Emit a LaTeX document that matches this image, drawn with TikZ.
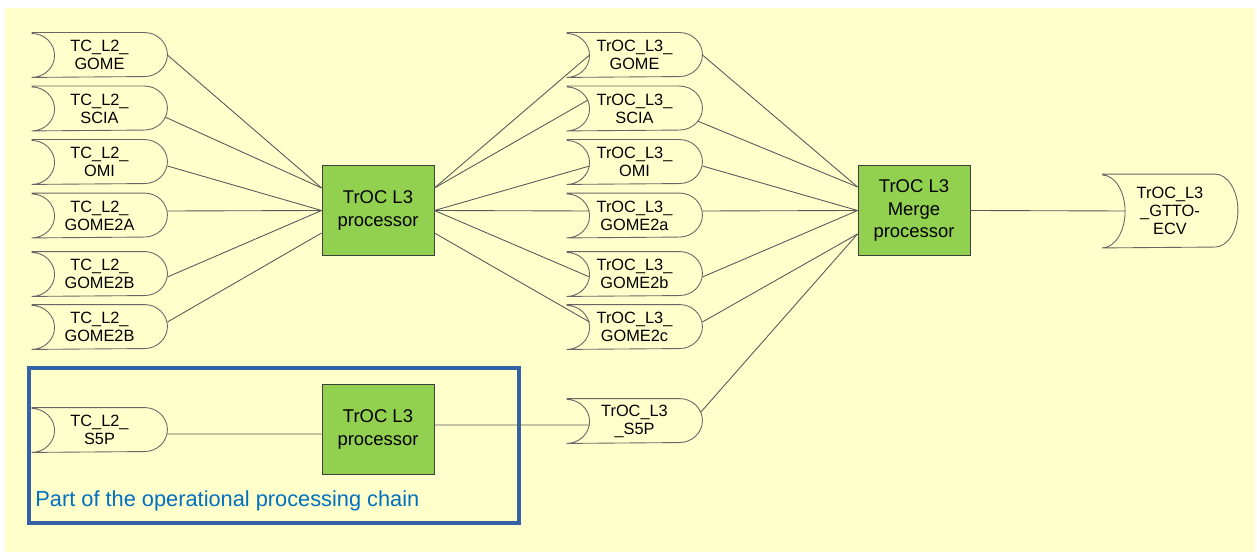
\documentclass[tikz,border=0pt]{standalone}
\usepackage{fontspec}
\setmainfont{Liberation Sans}
\usepackage{tikz}

\definecolor{bgyellow}{HTML}{FFFFCC}
\definecolor{procgreen}{HTML}{92D050}
\definecolor{frameblue}{HTML}{3562A6}
\definecolor{chainblue}{HTML}{0070C0}

\begin{document}
\begin{tikzpicture}[x=0.02cm, y=0.02cm, line width=0.5pt]
	\tikzset{store/.style={minimum width=2.7cm, minimum height=#1, inner sep=0pt, align=center, font=\fontsize{9.3}{10.2}\selectfont,
		append after command={\pgfextra{\let\sn\tikzlastnode
			\draw[draw=black!60, line width=0.5pt] (\sn.north west) -- ([xshift=-4.6mm]\sn.north east)
				arc[start angle=90, end angle=-90, x radius=4.6mm, y radius=#1/2] -- (\sn.south west)
				arc[start angle=-90, end angle=90, x radius=4.6mm, y radius=#1/2];}}},
		store/.default=8.8mm}
	\tikzstyle{proc}=[draw=black!75, fill=procgreen, minimum width=2.24cm, minimum height=1.8cm, inner sep=0pt, align=center, font=\fontsize{10.5}{13}\selectfont]
	\tikzstyle{link}=[draw=black!65, line width=0.5pt]

	\useasboundingbox (0,0) rectangle (1257,-553);
	\fill[bgyellow] (5,-8) rectangle (1255,-552);

	%MARCO
	\draw[frameblue, line width=1.8pt] (29,-368) rectangle (519,-523);
	\node[anchor=west, inner sep=0pt, text=chainblue, font=\fontsize{12.4}{14}\selectfont] (chain) at (35,-501) {Part of the operational processing chain};

	%ENTRADAS L2
	\node[store] (in1) at (99.5,-55)    {TC\_L2\_\\GOME};
	\node[store] (in2) at (99.5,-108.5) {TC\_L2\_\\SCIA};
	\node[store] (in3) at (99.5,-162)   {TC\_L2\_\\OMI};
	\node[store] (in4) at (99.5,-215.5) {TC\_L2\_\\GOME2A};
	\node[store] (in5) at (99.5,-274)   {TC\_L2\_\\GOME2B};
	\node[store] (in6) at (99.5,-327)   {TC\_L2\_\\GOME2B};
	\node[store] (in7) at (99.5,-430)   {TC\_L2\_\\S5P};

	%PROCESADORES
	\node[proc] (p1) at (378,-210.5) {TrOC L3\\processor};
	\node[proc] (p2) at (378,-429.5) {TrOC L3\\processor};
	\node[proc] (merge) at (914,-210.5) {TrOC L3\\Merge\\processor};

	%SALIDAS L3
	\node[store] (m1) at (634.5,-55)    {TrOC\_L3\_\\GOME};
	\node[store] (m2) at (634.5,-108.5) {TrOC\_L3\_\\SCIA};
	\node[store] (m3) at (634.5,-162)   {TrOC\_L3\_\\OMI};
	\node[store] (m4) at (634.5,-215.5) {TrOC\_L3\_\\GOME2a};
	\node[store] (m5) at (634.5,-274)   {TrOC\_L3\_\\GOME2b};
	\node[store] (m6) at (634.5,-327)   {TrOC\_L3\_\\GOME2c};
	\node[store] (m7) at (634.5,-421)   {TrOC\_L3\\\_S5P};
	\node[store=14.6mm] (out) at (1170,-211) {TrOC\_L3\\\_GTTO-\\ECV};

	%CONEXIONES
	\path[link]
		([yshift=0mm]in1.east)                 edge ([yshift=4.5mm]p1.west)
		([xshift=-0.5mm,yshift=-1.7mm]in2.east) edge ([yshift=4.5mm]p1.west)
		([yshift=-0.8mm]in3.east)              edge (p1.west)
		([yshift=0.9mm]in4.east)               edge (p1.west)
		([yshift=-0.6mm]in5.east)              edge (p1.west)
		([yshift=1mm]in6.east)                 edge ([yshift=-4.5mm]p1.west)
		([yshift=-0.8mm]in7.east)              edge ([yshift=-0.9mm]p2.west);
	\path[link]
		([yshift=4.5mm]p1.east)  edge ([xshift=4.6mm]m1.west)
		([yshift=4.5mm]p1.east)  edge ([xshift=4.3mm,yshift=1.7mm]m2.west)
		(p1.east)                edge ([xshift=4.6mm,yshift=-0.8mm]m3.west)
		(p1.east)                edge ([xshift=4.6mm,yshift=0.9mm]m4.west)
		(p1.east)                edge ([xshift=4.6mm,yshift=-0.6mm]m5.west)
		([yshift=-4.5mm]p1.east) edge ([xshift=4.6mm,yshift=1mm]m6.west)
		([yshift=0.9mm]p2.east)  edge ([xshift=4.6mm,yshift=-0.8mm]m7.west);
	\path[link]
		(m1.east)                             edge ([yshift=4.7mm]merge.west)
		([xshift=-1mm,yshift=-2.5mm]m2.east)  edge ([yshift=4.7mm]merge.west)
		([yshift=-0.8mm]m3.east)              edge (merge.west)
		([yshift=0.9mm]m4.east)               edge (merge.west)
		([yshift=-0.6mm]m5.east)              edge (merge.west)
		([yshift=1mm]m6.east)                 edge ([yshift=-4.7mm]merge.west)
		([xshift=-0.3mm,yshift=1.8mm]m7.east) edge ([yshift=-4.7mm]merge.west)
		(merge.east)                          edge ([xshift=4.6mm]out.west);
\end{tikzpicture}
\end{document}
